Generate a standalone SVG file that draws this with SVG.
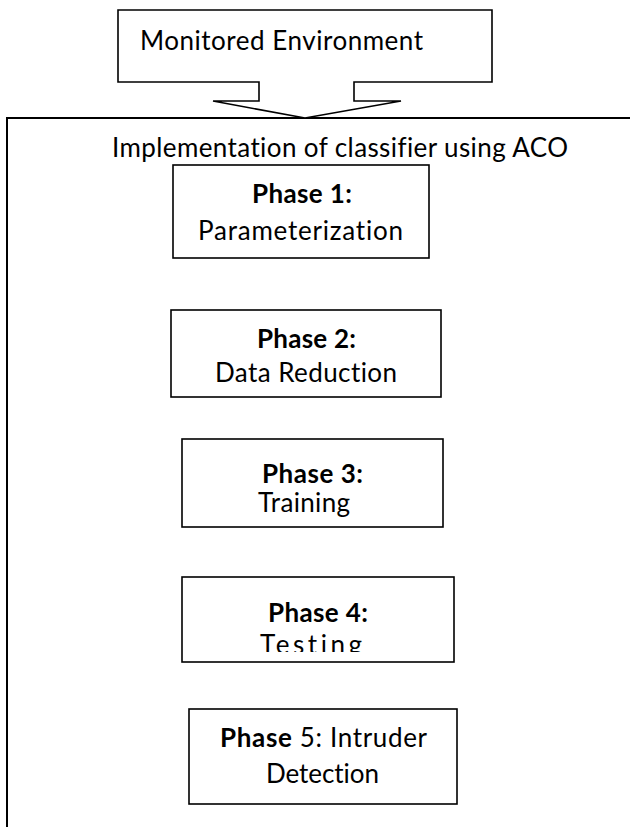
<svg xmlns="http://www.w3.org/2000/svg" width="630" height="827" viewBox="0 0 630 827">
<style>
.box{fill:#fff;stroke:#000;stroke-width:1.6}
.t{font-family:Lato,"Open Sans","Liberation Sans",sans-serif;font-size:26px;fill:#000;font-variant-ligatures:none;font-feature-settings:"liga" 0,"clig" 0}
.b{font-weight:bold}
</style>
<defs>
<clipPath id="clip3"><rect x="182" y="439" width="262" height="78"/></clipPath>
<clipPath id="clip4"><rect x="182" y="577" width="272" height="75"/></clipPath>
</defs>
<rect x="0" y="0" width="630" height="827" fill="#fff"/>
<g id="container">
<rect x="7" y="118" width="660" height="740" fill="none" stroke="#000" stroke-width="2"/>
<text class="t" x="112" y="157" textLength="456">Implementation of classifier using ACO</text>
</g>
<g id="monitored-environment">
<path class="box" d="M118,10 H492 V82 H354 V101 H401 L305,118 L213,101 H259 V82 H118 Z"/>
<text class="t" x="140" y="50" textLength="283">Monitored Environment</text>
</g>
<g id="phase1">
<rect class="box" x="173" y="165" width="256" height="93"/>
<text class="t b" x="252" y="203" textLength="100">Phase 1:</text>
<text class="t" x="198" y="240" textLength="205">Parameterization</text>
</g>
<g id="phase2">
<rect class="box" x="171" y="310" width="270" height="87"/>
<text class="t b" x="257" y="348" textLength="99">Phase 2:</text>
<text class="t" x="215" y="382" textLength="182">Data Reduction</text>
</g>
<g id="phase3">
<rect class="box" x="182" y="439" width="261" height="88"/>
<text class="t b" x="262" y="483" textLength="101">Phase 3:</text>
<text class="t" x="258" y="512" textLength="92" clip-path="url(#clip3)">Training</text>
</g>
<g id="phase4">
<rect class="box" x="182" y="577" width="272" height="85"/>
<text class="t b" x="268" y="622" textLength="100">Phase 4:</text>
<text class="t" x="260" y="654" textLength="102" clip-path="url(#clip4)">Testing</text>
</g>
<g id="phase5">
<rect class="box" x="189" y="709" width="268" height="95"/>
<text class="t" x="220" y="747" textLength="207"><tspan class="b">Phase</tspan> 5: Intruder</text>
<text class="t" x="266" y="783" textLength="113">Detection</text>
</g>
<g id="connectors"></g>
</svg>
